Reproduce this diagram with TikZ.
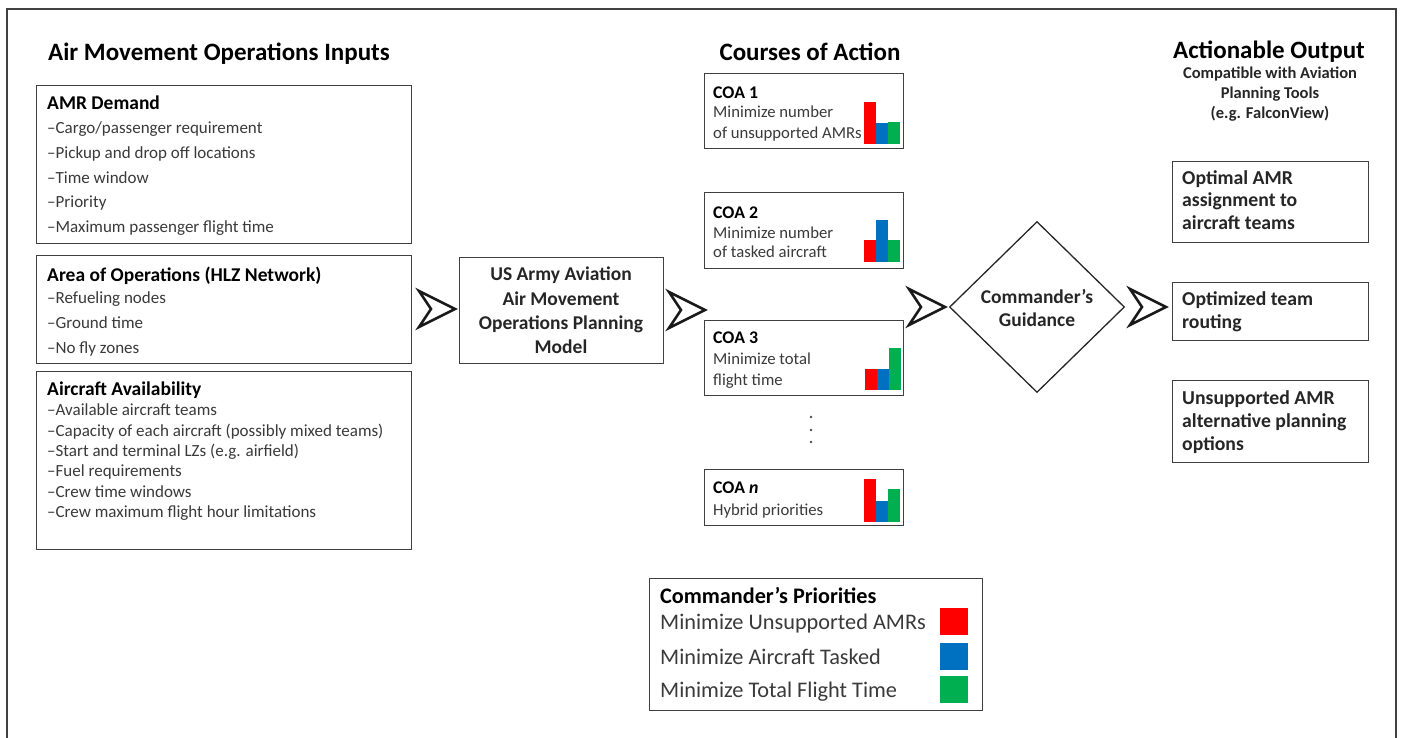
\documentclass[tikz,border=0pt]{standalone}
\usepackage{fontspec}
\setmainfont{Carlito}
\usetikzlibrary{shapes.geometric}
\definecolor{barred}{HTML}{FF0000}
\definecolor{barblue}{HTML}{0070C0}
\definecolor{bargreen}{HTML}{00B050}
\definecolor{boxline}{HTML}{404040}
\definecolor{itemtxt}{HTML}{3A3A3A}
\tikzset{
  box/.style={draw=boxline, line width=1.3pt, anchor=north west, inner sep=0pt, fill=white},
  ttl/.style={anchor=base, inner sep=0pt, font=\bfseries\fontsize{25}{30}\selectfont},
  sub/.style={anchor=base, inner sep=0pt, font=\bfseries\fontsize{16.5}{20}\selectfont, text=black!85},
  head/.style={anchor=base west, inner sep=0pt, font=\bfseries\fontsize{19.5}{23}\selectfont},
  item/.style={anchor=base west, inner sep=0pt, font=\fontsize{17}{20}\selectfont, text=itemtxt},
  itemsm/.style={anchor=base west, inner sep=0pt, font=\fontsize{17}{20}\selectfont, text=itemtxt},
  coah/.style={anchor=base west, inner sep=0pt, font=\bfseries\fontsize{17.8}{21}\selectfont},
  coat/.style={anchor=base west, inner sep=0pt, font=\fontsize{16.7}{20}\selectfont, text=itemtxt},
  mid/.style={anchor=base, inner sep=0pt, font=\bfseries\fontsize{19.5}{23}\selectfont, text=black!85},
  outt/.style={anchor=base west, inner sep=0pt, font=\bfseries\fontsize{19.7}{23}\selectfont, text=black!85},
  legh/.style={anchor=base west, inner sep=0pt, font=\bfseries\fontsize{22.2}{26}\selectfont},
  legt/.style={anchor=base west, inner sep=0pt, font=\fontsize{22.3}{26}\selectfont, text=itemtxt},
  chev/.style={draw=black!90, line width=2.6pt, fill=white, line join=miter},
  sq/.style={anchor=north west, minimum width=28pt, minimum height=27pt, inner sep=0pt},
}
\begin{document}
\begin{tikzpicture}[x=1pt,y=-1pt]
\useasboundingbox (0,0) rectangle (1401,737);
\draw[boxline, line width=1.6pt] (7,740) -- (7,9) -- (1396,9) -- (1396,740);

% ---- titles
\node[ttl] (tin) at (219,60) {Air Movement Operations Inputs};
\node[ttl] (tcoa) at (810,60) {Courses of Action};
\node[ttl] (tout) at (1269,58) {Actionable Output};
\node[sub] (s1) at (1270,78.5) {Compatible with Aviation};
\node[sub] (s2) at (1270,98.5) {Planning Tools};
\node[sub] (s3) at (1270,118.5) {(e.g. FalconView)};

% ---- input boxes
\node[box, minimum width=375pt, minimum height=158pt] (amr) at (36,85) {};
\node[head] (amrh) at (47,109.5) {AMR Demand};
\foreach \yy/\t [count=\i] in {133.6/{Cargo/passenger requirement}, 158.6/{Pickup and drop off locations}, 183.6/{Time window}, 207.6/{Priority}, 232.6/{Maximum passenger flight time}}
  \node[item] (amr\i) at (47,\yy) {–\t};

\node[box, minimum width=375pt, minimum height=108pt] (aoo) at (36,255) {};
\node[head] (aooh) at (47,281.5) {Area of Operations (HLZ Network)};
\foreach \yy/\t [count=\i] in {303.6/{Refueling nodes}, 328.6/{Ground time}, 353.6/{No fly zones}}
  \node[item] (aoo\i) at (47,\yy) {–\t};

\node[box, minimum width=375pt, minimum height=178pt] (acft) at (36,371) {};
\node[head] (acfth) at (47,395.5) {Aircraft Availability};
\foreach \yy/\t [count=\i] in {415.5/{Available aircraft teams}, 436/{Capacity of each aircraft (possibly mixed teams)}, 456.5/{Start and terminal LZs (e.g. airfield)}, 476.5/{Fuel requirements}, 497.5/{Crew time windows}, 517.5/{Crew maximum flight hour limitations}}
  \node[itemsm] (acft\i) at (47,\yy) {–\t};

% ---- model box
\node[box, minimum width=204pt, minimum height=106pt] (model) at (459,257) {};
\node[mid] (m1) at (561,280.4) {US Army Aviation};
\node[mid] (m2) at (561,305.4) {Air Movement};
\node[mid] (m3) at (561,329.4) {Operations Planning};
\node[mid] (m4) at (561,353.4) {Model};

% ---- chevrons
\foreach \n/\tx/\ty in {c1/455/309, c2/705/310, c3/945/307, c4/1166/307}{
  \coordinate (\n) at (\tx,\ty);
  \draw[chev] (\n) -- ++(-36,-18) -- ++(12,18) -- ++(-12,18) -- cycle;
}

% ---- COA boxes
\node[box, minimum width=199pt, minimum height=75pt] (coa1) at (704,73) {};
\node[coah] (coa1h) at (713,98) {COA 1};
\node[coat] (coa1a) at (713,117.5) {Minimize number};
\node[coat] (coa1b) at (713,138.5) {of unsupported AMRs};
\fill[barred]   (864,102) rectangle (876,144);
\fill[barblue]  (876,123) rectangle (888,144);
\fill[bargreen] (888,122) rectangle (900,144);

\node[box, minimum width=199pt, minimum height=76pt] (coa2) at (704,192) {};
\node[coah] (coa2h) at (713,218) {COA 2};
\node[coat] (coa2a) at (713,238.5) {Minimize number};
\node[coat] (coa2b) at (713,257.5) {of tasked aircraft};
\fill[barred]   (864,240) rectangle (876,262);
\fill[barblue]  (876,220) rectangle (888,262);
\fill[bargreen] (888,240) rectangle (900,262);

\node[box, minimum width=199pt, minimum height=75pt] (coa3) at (704,320) {};
\node[coah] (coa3h) at (713,343) {COA 3};
\node[coat] (coa3a) at (713,364.5) {Minimize total};
\node[coat] (coa3b) at (713,385.5) {flight time};
\fill[barred]   (865,369) rectangle (877,390);
\fill[barblue]  (877,369) rectangle (889,390);
\fill[bargreen] (889,348) rectangle (901,390);

\foreach \yy in {417,430,442}
  \fill[black!70] (811,\yy) circle (1.4pt);

\node[box, minimum width=199pt, minimum height=56pt] (coan) at (704,469) {};
\node[coah] (coanh) at (713,493) {COA \textit{n}};
\node[coat] (coana) at (713,515.5) {Hybrid priorities};
\fill[barred]   (864,479) rectangle (876,522);
\fill[barblue]  (876,501) rectangle (888,522);
\fill[bargreen] (888,489) rectangle (900,522);

% ---- diamond
\node[draw=black!85, line width=1.3pt, diamond, minimum width=175pt, minimum height=171pt, inner sep=0pt] (guid) at (1037,307) {};
\node[mid] (g1) at (1037,303.5) {Commander’s};
\node[mid] (g2) at (1037,326.5) {Guidance};

% ---- output boxes
\node[box, minimum width=196pt, minimum height=81pt] (o1) at (1172,161) {};
\node[outt] (o1a) at (1182,184.5) {Optimal AMR};
\node[outt] (o1b) at (1182,206.5) {assignment to};
\node[outt] (o1c) at (1182,229.5) {aircraft teams};

\node[box, minimum width=196pt, minimum height=58pt] (o2) at (1172,282) {};
\node[outt] (o2a) at (1182,305.5) {Optimized team};
\node[outt] (o2b) at (1182,328.5) {routing};

\node[box, minimum width=196pt, minimum height=82pt] (o3) at (1172,380) {};
\node[outt] (o3a) at (1182,404.5) {Unsupported AMR};
\node[outt] (o3b) at (1182,427.5) {alternative planning};
\node[outt] (o3c) at (1182,450.5) {options};

% ---- legend
\node[box, minimum width=333pt, minimum height=132pt] (leg) at (649,578) {};
\node[legh] (leghd) at (660,603) {Commander’s Priorities};
\node[legt] (l1) at (660,629) {Minimize Unsupported AMRs};
\node[legt] (l2) at (660,664) {Minimize Aircraft Tasked};
\node[legt] (l3) at (660,697) {Minimize Total Flight Time};
\node[sq, fill=barred]   (q1) at (940,608) {};
\node[sq, fill=barblue]  (q2) at (940,643) {};
\node[sq, fill=bargreen] (q3) at (940,676) {};
\end{tikzpicture}
\end{document}
